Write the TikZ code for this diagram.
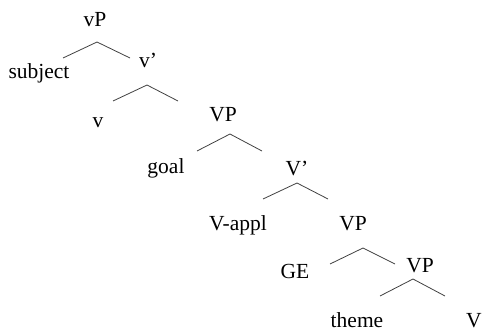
\documentclass[tikz,border=0pt]{standalone}
\usepackage{fontspec}
\setmainfont{Liberation Serif}
\begin{document}
\begin{tikzpicture}[x=1pt,y=-1pt,
  lbl/.style={anchor=base,inner sep=0pt,font=\fontsize{21.5}{24}\selectfont},
  branch/.style={draw=black!75,line width=0.8pt}]
\useasboundingbox (0,0) rectangle (484,332);
% labels
\node[lbl] (vP) at (95,27) {vP};
\node[lbl] (subj) at (39,78) {subject};
\node[lbl] (vbar) at (148,67) {v’};
\node[lbl] (v) at (98,127) {v};
\node[lbl] (VPa) at (223,121) {VP};
\node[lbl] (goal) at (166,173) {goal};
\node[lbl] (Vbar) at (297,175) {V’};
\node[lbl] (Vappl) at (238,230) {V-appl};
\node[lbl] (VPb) at (353,230) {VP};
\node[lbl] (GE) at (295,278) {GE};
\node[lbl] (VPc) at (420,272) {VP};
\node[lbl] (theme) at (357,327) {theme};
\node[lbl] (V) at (474,327) {V};
% branch points
\coordinate (a1) at (97,42);  \coordinate (l1) at (63,58);   \coordinate (r1) at (130,58);
\coordinate (a2) at (147,85); \coordinate (l2) at (113,101); \coordinate (r2) at (178,101);
\coordinate (a3) at (230,134);\coordinate (l3) at (197,151); \coordinate (r3) at (262,151);
\coordinate (a4) at (297,183);\coordinate (l4) at (263,199); \coordinate (r4) at (328,199);
\coordinate (a5) at (363,248);\coordinate (l5) at (330,264); \coordinate (r5) at (395,264);
\coordinate (a6) at (413,279);\coordinate (l6) at (380,296); \coordinate (r6) at (445,296);
\draw[branch] (l1) -- (a1) -- (r1);
\draw[branch] (l2) -- (a2) -- (r2);
\draw[branch] (l3) -- (a3) -- (r3);
\draw[branch] (l4) -- (a4) -- (r4);
\draw[branch] (l5) -- (a5) -- (r5);
\draw[branch] (l6) -- (a6) -- (r6);
\end{tikzpicture}
\end{document}
